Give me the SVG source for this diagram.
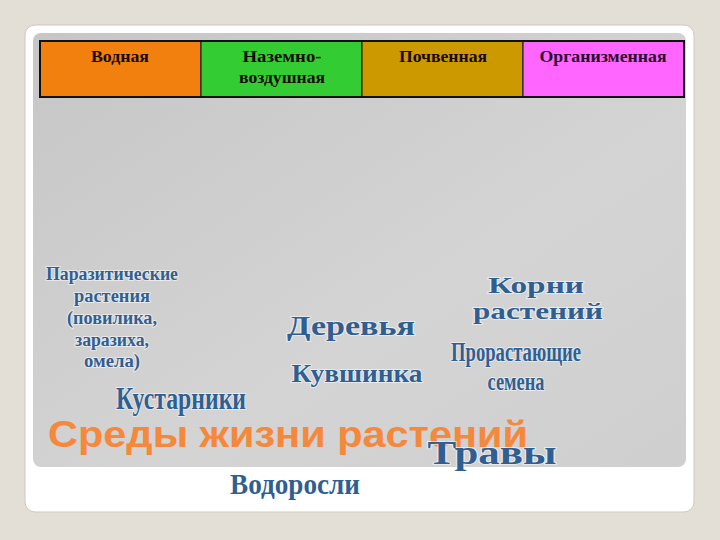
<svg xmlns="http://www.w3.org/2000/svg" width="720" height="540" viewBox="0 0 720 540">
<defs>
<linearGradient id="panel" x1="0" y1="0" x2="1" y2="1">
<stop offset="0" stop-color="#c6c6c6"/>
<stop offset="0.6" stop-color="#d4d4d4"/>
<stop offset="1" stop-color="#cfcfcf"/>
</linearGradient>
<style>
.hdr{font-family:"Liberation Serif",serif;font-weight:bold;font-size:16px;text-anchor:middle;fill:#1a0a00}
.blue{font-family:"Liberation Serif",serif;font-weight:bold;fill:#2f5f92;stroke:#ffffff;stroke-width:2;stroke-opacity:0.55;paint-order:stroke;text-anchor:middle}
.cell{stroke:#111;stroke-width:1}
</style>
</defs>
<rect width="720" height="540" fill="#e4dfd6"/>
<rect x="25" y="25" width="669" height="487" rx="10" fill="#ffffff" stroke="#cfc9bd" stroke-width="1"/>
<rect x="33" y="33" width="653" height="434" rx="8" fill="url(#panel)"/>
<g id="table">
<rect class="cell" x="40" y="41" width="161" height="56" fill="#f2800f"/>
<rect class="cell" x="201" y="41" width="161" height="56" fill="#33cc33"/>
<rect class="cell" x="362" y="41" width="161" height="56" fill="#cc9900"/>
<rect class="cell" x="523" y="41" width="161" height="56" fill="#ff66ff"/>
<rect x="40" y="41" width="644" height="56" fill="none" stroke="#111" stroke-width="2"/>
<text class="hdr" x="120" y="62" textLength="58" lengthAdjust="spacingAndGlyphs">Водная</text>
<text class="hdr" x="282" y="62" textLength="79" lengthAdjust="spacingAndGlyphs">Наземно-</text>
<text class="hdr" x="282" y="83" textLength="86" lengthAdjust="spacingAndGlyphs">воздушная</text>
<text class="hdr" x="443" y="62" textLength="88" lengthAdjust="spacingAndGlyphs">Почвенная</text>
<text class="hdr" x="603" y="62" style="fill:#2a0a2a" textLength="127" lengthAdjust="spacingAndGlyphs">Организменная</text>
</g>
<g id="parasitic">
<text class="blue" font-size="18" x="112" y="280" textLength="132" lengthAdjust="spacingAndGlyphs">Паразитические</text>
<text class="blue" font-size="18" x="112" y="302" textLength="76" lengthAdjust="spacingAndGlyphs">растения</text>
<text class="blue" font-size="18" x="112" y="324" textLength="90" lengthAdjust="spacingAndGlyphs">(повилика,</text>
<text class="blue" font-size="18" x="112" y="346" textLength="74" lengthAdjust="spacingAndGlyphs">заразиха,</text>
<text class="blue" font-size="18" x="112" y="367" textLength="56" lengthAdjust="spacingAndGlyphs">омела)</text>
</g>
<g id="trees"><text class="blue" font-size="28" x="351" y="335" textLength="128" lengthAdjust="spacingAndGlyphs">Деревья</text></g>
<g id="waterlily"><text class="blue" font-size="26" x="357" y="382" textLength="131" lengthAdjust="spacingAndGlyphs">Кувшинка</text></g>
<g id="roots">
<text class="blue" font-size="24" x="536" y="293" textLength="96" lengthAdjust="spacingAndGlyphs">Корни</text>
<text class="blue" font-size="24" x="538" y="319" textLength="130" lengthAdjust="spacingAndGlyphs">растений</text>
</g>
<g id="seeds">
<text class="blue" font-size="27" x="516" y="361" textLength="130" lengthAdjust="spacingAndGlyphs">Прорастающие</text>
<text class="blue" font-size="25" x="516" y="390" textLength="57" lengthAdjust="spacingAndGlyphs">семена</text>
</g>
<g id="shrubs"><text class="blue" font-size="32" x="181" y="409" textLength="130" lengthAdjust="spacingAndGlyphs">Кустарники</text></g>
<g id="title"><text x="48" y="447" font-family="Liberation Sans, sans-serif" font-weight="bold" font-size="37" fill="#f5883a" textLength="480" lengthAdjust="spacingAndGlyphs">Среды жизни растений</text></g>
<g id="grass"><text class="blue" font-size="33" x="492" y="464" textLength="129" lengthAdjust="spacingAndGlyphs">Травы</text></g>
<g id="algae"><text class="blue" font-size="30" x="295" y="494" textLength="130" lengthAdjust="spacingAndGlyphs">Водоросли</text></g>
</svg>
